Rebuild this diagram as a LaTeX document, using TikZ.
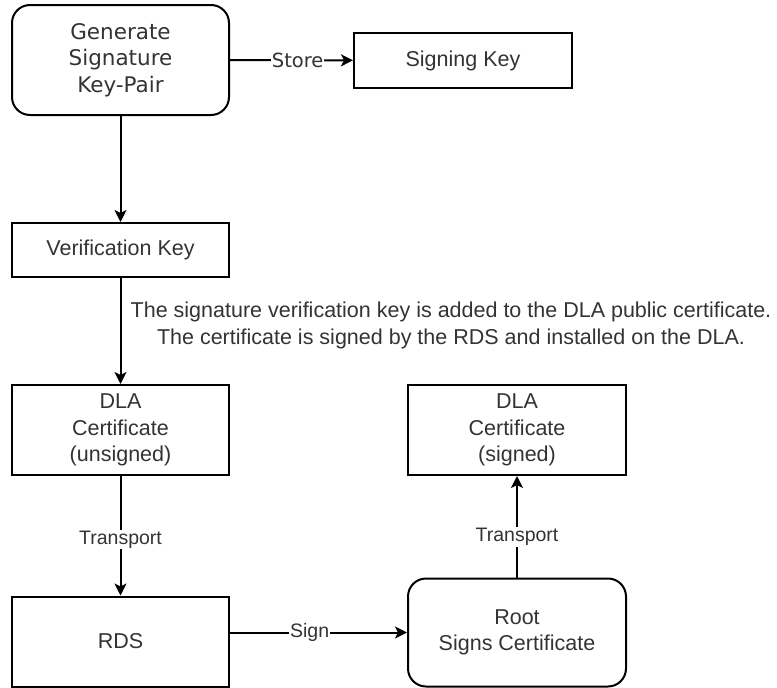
\documentclass[tikz,border=0pt]{standalone}
\usepackage{fontspec}
\setmainfont{Liberation Sans}
\newfontfamily\dejavu{DejaVu Sans}
\usetikzlibrary{arrows.meta}
\definecolor{txtgray}{HTML}{333333}
\tikzset{
  box/.style={draw, line width=2pt, inner sep=0pt, align=center,
    text=txtgray, font=\fontsize{21.5}{26.5}\selectfont},
  roundbox/.style={box, rounded corners=18pt},
  flow/.style={draw, line width=2pt, -{Stealth[length=12pt,width=12pt,inset=3pt]}},
  lbl/.style={fill=white, inner sep=1pt, text=txtgray, font=\fontsize{19.5}{23}\selectfont},
}
\begin{document}
\begin{tikzpicture}[x=1pt, y=-1pt]
        \useasboundingbox (0,0) rectangle (777,688);
        % key generation
        \node[roundbox, minimum width=217pt, minimum height=110pt, font=\dejavu\fontsize{21.5}{26.5}\selectfont] (gen) at (120.5, 60) {Generate\\Signature\\Key-Pair};
        \node[box, minimum width=218pt, minimum height=55pt] (signkey) at (463, 60.5) {Signing Key};
        \node[box, minimum width=217pt, minimum height=54pt] (verif) at (120.5, 250) {Verification Key};
        % certificates
        \node[box, minimum width=217pt, minimum height=90pt] (unsigned) at (120.5, 430) {DLA\\Certificate\\(unsigned)};
        \node[box, minimum width=218pt, minimum height=90pt] (signed) at (517, 430) {DLA\\Certificate\\(signed)};
        \node[box, minimum width=217pt, minimum height=90pt] (rds) at (120.5, 641.5) {RDS};
        \node[roundbox, minimum width=218pt, minimum height=108pt] (root) at (517, 632.5) {Root\\Signs Certificate};
        \node[align=center, text=txtgray, font=\fontsize{21.5}{27}\selectfont] (note) at (451, 325.5)
            {The signature verification key is added to the DLA public certificate.\\
             The certificate is signed by the RDS and installed on the DLA.};
        % connectors
        \draw[flow] (gen) -- node[lbl, pos=.55] {\dejavu Store} (signkey);
        \draw[flow] (gen) -- (verif);
        \draw[flow] (verif) -- (unsigned);
        \draw[flow] (unsigned) -- node[lbl, pos=.53] {Transport} (rds);
        \draw[flow] (rds.east |- root.west) -- node[lbl, pos=.45] {Sign} (root.west);
        \draw[flow] (root) -- node[lbl, pos=.40] {Transport} (signed);
\end{tikzpicture}
\end{document}
